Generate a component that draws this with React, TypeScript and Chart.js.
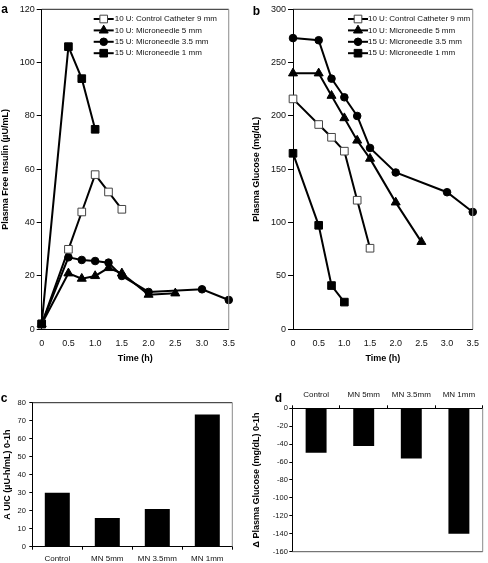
import React, { useEffect, useRef } from 'react';
import { Chart, registerables } from 'chart.js';
import { drawPoint } from 'chart.js/helpers';

Chart.register(...registerables);

const FONT = '"Liberation Sans", Arial, Helvetica, sans-serif';

// ---------- data ----------
const seriesNames = [
  '10 U: Control Catheter 9 mm',
  '10 U: Microneedle 5 mm',
  '15 U: Microneedle 3.5 mm',
  '15 U: Microneedle 1 mm',
];

const timeControl = [0, 0.5, 0.75, 1, 1.25, 1.5];
const timeMN5 = [0, 0.5, 0.75, 1, 1.25, 1.5, 2, 2.5];
const timeMN35 = [0, 0.5, 0.75, 1, 1.25, 1.5, 2, 3, 3.5];
const timeMN1 = [0, 0.5, 0.75, 1];

const insulinControl = [2, 30, 44, 58, 51.5, 45];
const insulinMN5 = [2, 21, 19, 20, 23, 21, 13, 13.5];
const insulinMN35 = [2, 27, 26, 25.6, 25, 20, 14, 15, 11];
const insulinMN1 = [2, 106, 94, 75];

const glucoseControl = [216, 192, 180, 167, 121, 76];
const glucoseMN5 = [240, 240, 219, 198, 177, 160, 119, 82];
const glucoseMN35 = [273, 271, 235, 217.5, 200, 170, 147, 128.5, 110];
const glucoseMN1 = [165, 97.5, 41, 25.5];

const groupLabels = ['Control', 'MN 5mm', 'MN 3.5mm', 'MN 1mm'];
const auicValues = [30, 16, 21, 73.5];
const glucoseDropValues = [-49.5, -42, -56, -140];

// ---------- styles ----------
const markerStyles = [
  { shape: 'rect', r: 5.4, fill: '#ffffff', stroke: '#444444', bw: 1, order: 1 },
  { shape: 'triangle', r: 5.2, fill: '#000000', stroke: '#000000', bw: 1, order: 2 },
  { shape: 'circle', r: 3.8, fill: '#000000', stroke: '#000000', bw: 1, order: 3 },
  { shape: 'rect', r: 5.4, fill: '#000000', stroke: '#000000', bw: 1, order: 0 },
];

const decorPlugin = {
  id: 'decor',
  afterDraw(chart: any, _args: any, opts: any) {
    const ctx = chart.ctx as CanvasRenderingContext2D;
    const ca = chart.chartArea;
    ctx.save();
    ctx.lineWidth = 1;
    if (opts.frameTop) {
      ctx.strokeStyle = opts.topColor || '#222';
      ctx.beginPath();
      ctx.moveTo(ca.left, ca.top);
      ctx.lineTo(ca.right, ca.top);
      ctx.stroke();
    }
    if (opts.frameRight) {
      ctx.strokeStyle = '#8a8a8a';
      ctx.beginPath();
      ctx.moveTo(ca.right, ca.top);
      ctx.lineTo(ca.right, ca.bottom);
      ctx.stroke();
    }
    if (opts.frameBottom) {
      ctx.strokeStyle = '#555';
      ctx.beginPath();
      ctx.moveTo(ca.left, ca.bottom);
      ctx.lineTo(ca.right, ca.bottom);
      ctx.stroke();
    }
    if (opts.letter) {
      ctx.font = `bold 12px ${FONT}`;
      ctx.fillStyle = '#000';
      ctx.textAlign = 'center';
      ctx.textBaseline = 'middle';
      ctx.fillText(opts.letter, opts.letterX, opts.letterY);
    }
    const lg = opts.legend;
    if (lg) {
      ctx.font = `8px ${FONT}`;
      ctx.textAlign = 'left';
      ctx.textBaseline = 'middle';
      chart.data.datasets.forEach((ds: any, i: number) => {
        const cx = ca.left + lg.dx;
        const cy = ca.top + lg.dy + i * lg.rowH;
        ctx.strokeStyle = ds.borderColor;
        ctx.lineWidth = ds.borderWidth;
        ctx.beginPath();
        ctx.moveTo(cx - lg.half, cy);
        ctx.lineTo(cx + lg.half, cy);
        ctx.stroke();
        ctx.fillStyle = ds.pointBackgroundColor;
        ctx.strokeStyle = ds.pointBorderColor;
        ctx.lineWidth = ds.pointBorderWidth;
        drawPoint(ctx, { pointStyle: ds.pointStyle, radius: ds.pointRadius, rotation: 0, borderWidth: ds.pointBorderWidth } as any, cx, cy);
        ctx.fillStyle = '#111';
        ctx.fillText(ds.label, cx + lg.textGap, cy);
      });
    }
    ctx.restore();
  },
};
Chart.register(decorPlugin as any);

function lineDataset(i: number, times: number[], values: number[]) {
  const s = markerStyles[i];
  return {
    label: seriesNames[i],
    data: times.map((t, k) => ({ x: t, y: values[k] })),
    borderColor: '#000000',
    borderWidth: 2,
    pointStyle: s.shape,
    pointRadius: s.r,
    pointBackgroundColor: s.fill,
    pointBorderColor: s.stroke,
    pointBorderWidth: s.bw,
    order: s.order,
    tension: 0,
    fill: false,
    clip: false,
  };
}

function lineConfig(c: any) {
  return {
    type: 'line',
    data: {
      datasets: [
        lineDataset(0, timeControl, c.values[0]),
        lineDataset(1, timeMN5, c.values[1]),
        lineDataset(2, timeMN35, c.values[2]),
        lineDataset(3, timeMN1, c.values[3]),
      ],
    },
    options: {
      responsive: false,
      animation: false,
      events: [],
      layout: { padding: c.padding },
      plugins: {
        legend: { display: false },
        tooltip: { enabled: false },
        decor: {
          frameTop: true,
          frameRight: true,
          letter: c.letter,
          letterX: c.letterX,
          letterY: c.letterY,
          legend: c.legend,
        },
      },
      scales: {
        x: {
          type: 'linear',
          min: 0,
          max: 3.5,
          ticks: { stepSize: 0.5, font: { family: FONT, size: 9 }, color: '#111', padding: 9, maxRotation: 0 },
          grid: { drawOnChartArea: false, drawTicks: false },
          border: { color: '#000', width: 1 },
          title: { display: true, text: 'Time (h)', font: { family: FONT, size: 9, weight: 'bold' }, color: '#000', padding: { top: 0, bottom: 1.3 } },
          afterFit: (s: any) => { s.height = c.xH; },
        },
        y: {
          type: 'linear',
          min: 0,
          max: c.yMax,
          ticks: { stepSize: c.yStep, font: { family: FONT, size: 9 }, color: '#111', padding: 2 },
          grid: { drawOnChartArea: false, tickLength: 5, color: '#000' },
          border: { color: '#000', width: 1 },
          title: { display: true, text: c.yTitle, font: { family: FONT, size: 9, weight: 'bold' }, color: '#000', padding: { top: c.yTitlePad, bottom: 0 } },
          afterFit: (s: any) => { s.width = c.yW; },
        },
      },
    },
  };
}

function barConfig(c: any) {
  return {
    type: 'bar',
    data: {
      labels: groupLabels,
      datasets: [
        {
          data: c.values,
          backgroundColor: '#000000',
          borderWidth: 0,
          barPercentage: c.barPct,
          categoryPercentage: 1,
        },
      ],
    },
    options: {
      responsive: false,
      animation: false,
      events: [],
      layout: { padding: c.padding },
      plugins: {
        legend: { display: false },
        tooltip: { enabled: false },
        decor: {
          frameTop: c.frameTop,
          frameRight: true,
          frameBottom: c.frameBottom,
          letter: c.letter,
          letterX: c.letterX,
          letterY: c.letterY,
        },
      },
      scales: {
        x: {
          type: 'category',
          position: c.xPos,
          ticks: { font: { family: FONT, size: 8 }, color: '#111', padding: c.xPad, maxRotation: 0, autoSkip: false },
          grid: { drawOnChartArea: false, tickLength: 3, color: '#000', offset: true },
          border: { color: '#000', width: 1 },
          afterFit: (s: any) => { s.height = c.xH; },
        },
        y: {
          type: 'linear',
          min: c.yMin,
          max: c.yMax,
          ticks: { stepSize: c.yStep, font: { family: FONT, size: 7.5 }, color: '#111', padding: c.yPad },
          grid: { drawOnChartArea: false, tickLength: 3, color: '#000' },
          border: { color: '#000', width: 1 },
          title: { display: true, text: c.yTitle, font: { family: FONT, size: 9, weight: 'bold' }, color: '#000', padding: { top: c.yTitlePad, bottom: 0 } },
          afterFit: (s: any) => { s.width = c.yW; },
        },
      },
    },
  };
}

const makeA = () =>
  lineConfig({
    values: [insulinControl, insulinMN5, insulinMN35, insulinMN1],
    padding: { left: 0, top: 9.3, right: 12.3, bottom: 0 },
    xH: 35.7,
    yW: 41.7,
    yMax: 120,
    yStep: 20,
    yTitle: 'Plasma Free Insulin (\u00b5U/mL)',
    yTitlePad: 0.5,
    letter: 'a',
    letterX: 4.5,
    letterY: 9.5,
    legend: { dx: 62, dy: 9.7, rowH: 11.4, half: 10, textGap: 11 },
  });

const makeB = () =>
  lineConfig({
    values: [glucoseControl, glucoseMN5, glucoseMN35, glucoseMN1],
    padding: { left: 0, top: 9.3, right: 6.3, bottom: 0 },
    xH: 35.7,
    yW: 49,
    yMax: 300,
    yStep: 50,
    yTitle: 'Plasma Glucose (mg/dL)',
    yTitlePad: 7.3,
    letter: 'b',
    letterX: 12.5,
    letterY: 11.7,
    legend: { dx: 65, dy: 9.7, rowH: 11.4, half: 10, textGap: 10 },
  });

const makeC = () =>
  barConfig({
    values: auicValues,
    barPct: 0.5,
    padding: { left: 0, top: 37.7, right: 11.7, bottom: 0 },
    xPos: 'bottom',
    xPad: 4,
    xH: 16.3,
    yW: 32.3,
    yMin: 0,
    yMax: 80,
    yStep: 10,
    yPad: 3.5,
    yTitle: 'A UIC (\u00b5U-h/mL) 0-1h',
    yTitlePad: 2.3,
    frameTop: true,
    frameBottom: false,
    letter: 'c',
    letterX: 4,
    letterY: 33.5,
  });

const makeD = () =>
  barConfig({
    values: glucoseDropValues,
    barPct: 0.44,
    padding: { left: 0, top: 0, right: 5.3, bottom: 11.3 },
    xPos: 'top',
    xPad: 6,
    xH: 43.3,
    yW: 48.3,
    yMin: -160,
    yMax: 0,
    yStep: 20,
    yPad: 1.5,
    yTitle: '\u0394 Plasma Glucose (mg/dL) 0-1h',
    yTitlePad: 7,
    frameTop: false,
    frameBottom: true,
    letter: 'd',
    letterX: 34.5,
    letterY: 34,
  });

function ChartCanvas(props: { make: () => any; left: number; top: number; width: number; height: number }) {
  const ref = useRef<HTMLCanvasElement>(null);
  useEffect(() => {
    const chart = new Chart(ref.current as HTMLCanvasElement, props.make());
    return () => chart.destroy();
  }, []);
  return (
    <canvas
      ref={ref}
      width={props.width}
      height={props.height}
      style={{ position: 'absolute', left: props.left, top: props.top, width: props.width, height: props.height, display: 'block' }}
    />
  );
}

export default function App() {
  return (
    <div style={{ position: 'fixed', left: 0, top: 0, width: 488, height: 563, background: '#ffffff', overflow: 'hidden' }}>
      <ChartCanvas make={makeA} left={0} top={0} width={244} height={365} />
      <ChartCanvas make={makeB} left={244} top={0} width={244} height={365} />
      <ChartCanvas make={makeC} left={0} top={365} width={244} height={198} />
      <ChartCanvas make={makeD} left={244} top={365} width={244} height={198} />
    </div>
  );
}
